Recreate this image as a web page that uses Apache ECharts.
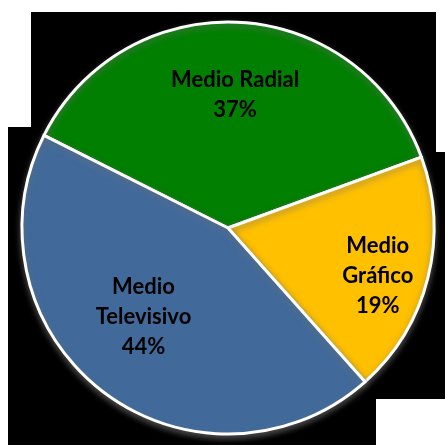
<!DOCTYPE html>
<html>
<head>
<meta charset="utf-8">
<script src="https://cdn.jsdelivr.net/npm/echarts@6/dist/echarts.min.js"></script>
<style>
html,body{margin:0;padding:0;background:#fff;}
#chart{width:445px;height:445px;}
</style>
</head>
<body>
<div id="chart"></div>
<script>
const categories = ['Medio Radial', 'Medio\nGráfico', 'Medio\nTelevisivo'];
const values = [37, 19, 44];
const colors = ['#017F01', '#FFC000', '#416A9B'];
const labelOffsets = [[1, -27], [47, 22], [-20, 5]];

const chart = echarts.init(document.getElementById('chart'), null, {renderer: 'canvas'});
const option = {
  animation: false,
  backgroundColor: '#ffffff',
  graphic: [{
    type: 'polygon',
    z: -10,
    shape: {points: [[31,12],[436,12],[436,152],[445,152],[445,399],[376,399],[376,445],[8,445],[8,127],[31,127]]},
    style: {fill: '#000000'}
  }],
  series: [{
    type: 'pie',
    center: [228, 228],
    radius: [0, 206],
    startAngle: 153.3,
    clockwise: true,
    data: categories.map((c, i) => ({
      name: c,
      value: values[i],
      itemStyle: {color: colors[i]},
      label: {offset: labelOffsets[i]}
    })),
    itemStyle: {
      borderColor: '#ffffff',
      borderWidth: 3,
      shadowColor: 'rgba(110,110,110,0.7)',
      shadowBlur: 6,
      shadowOffsetY: 3
    },
    label: {
      show: true,
      position: 'inside',
      formatter: p => p.name + '\n' + Math.round(p.percent) + '%',
      fontFamily: 'Lato',
      fontWeight: 'bold',
      fontSize: 22,
      lineHeight: 30,
      color: '#000000',
      align: 'center'
    },
    labelLine: {show: false},
    emphasis: {disabled: true}
  }]
};
chart.setOption(option);
</script>
</body>
</html>
